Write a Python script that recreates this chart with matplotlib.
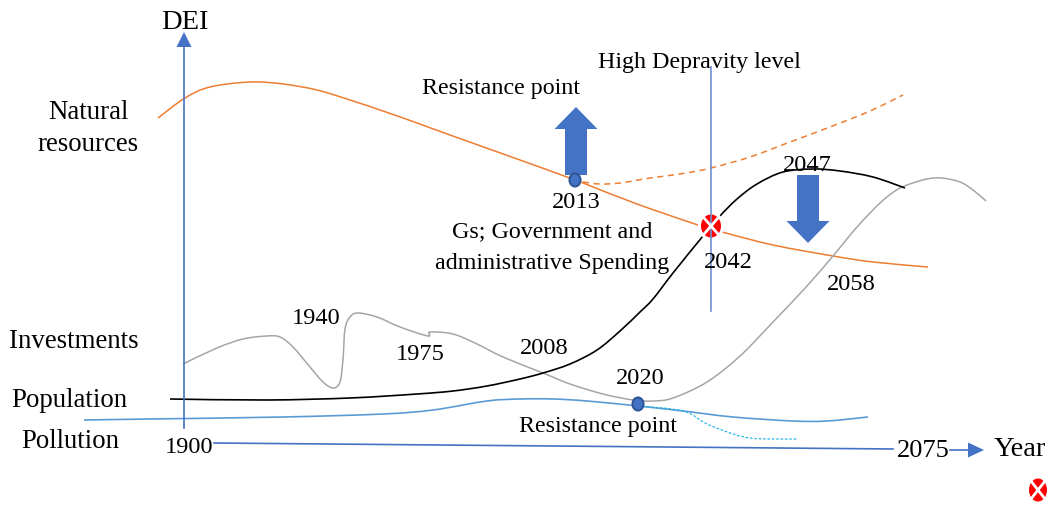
import matplotlib
matplotlib.use("Agg")
import matplotlib.pyplot as plt
from matplotlib.patches import Ellipse, FancyArrow, PathPatch
from matplotlib.path import Path

plt.rcParams['font.family'] = ['Liberation Serif', 'DejaVu Serif']

# curves, in picture pixels
nat_x = [158, 185, 210, 250, 283, 317, 350, 383, 417, 450, 520, 567, 583, 637, 698, 722, 773, 833, 873, 928]
nat_y = [119, 99, 88, 83, 85, 91, 101, 112, 124, 136, 161, 178, 184, 205, 226, 233, 246, 257, 263, 268]
nat2_x = [583, 600, 620, 650, 680, 711, 750, 790, 830, 870, 903]
nat2_y = [183, 185, 184, 179, 175, 169, 158, 143, 128, 112, 96]
pop_x = [170, 267, 350, 417, 453, 487, 520, 543, 570, 597, 620, 640, 653, 673, 703, 720, 737, 757, 783, 813, 840, 873, 905]
pop_y = [400, 401, 399, 395, 392, 387, 380, 374, 365, 351, 332, 313, 300, 274, 237, 217, 200, 185, 173, 170, 172, 178, 189]
inv_x = [183, 217, 243, 267, 280, 293, 310, 323, 333, 340, 343, 345, 350, 358, 377, 400, 428, 430, 453, 477, 503, 543, 570, 603, 633, 653, 673, 707, 740, 773, 807, 833, 857, 880, 895, 907, 927, 942, 960, 973, 986]
inv_y = [365, 349, 340, 337, 338, 348, 368, 383, 389, 383, 360, 330, 318, 314, 318, 328, 337, 333, 335, 345, 358, 374, 385, 395, 401, 402, 399, 383, 357, 323, 287, 257, 228, 204, 192, 186, 180, 179, 183, 191, 202]
pol_x = [84, 150, 283, 383, 433, 487, 520, 553, 587, 638, 683, 733, 793, 827, 868]
pol_y = [421, 420, 418, 415, 411, 402, 400, 400, 402, 407, 412, 418, 422, 422, 418]
pol2_x = [638, 683, 707, 733, 750, 770, 798]
pol2_y = [407, 412, 425, 435, 439, 440, 440]

years = ["1900", "1940", "1975", "2008", "2013", "2020", "2042", "2047", "2058", "2075"]

blue = '#4472c4'
fig = plt.figure(figsize=(10.49, 5.06), dpi=100)
ax = fig.add_axes([0, 0, 1, 1])
ax.set_xlim(0, 1049)
ax.set_ylim(506, 0)
ax.axis('off')


def smooth(x, y, **kw):
    # catmull-rom through the read points, so the curve is not angular
    pts = list(zip(x, y))
    verts = [pts[0]]
    codes = [Path.MOVETO]
    for i in range(len(pts) - 1):
        p0 = pts[max(i - 1, 0)]
        p1 = pts[i]
        p2 = pts[i + 1]
        p3 = pts[min(i + 2, len(pts) - 1)]
        verts.append((p1[0] + (p2[0] - p0[0]) / 6, p1[1] + (p2[1] - p0[1]) / 6))
        verts.append((p2[0] - (p3[0] - p1[0]) / 6, p2[1] - (p3[1] - p1[1]) / 6))
        verts.append(p2)
        codes += [Path.CURVE4] * 3
    ax.add_patch(PathPatch(Path(verts, codes), fill=False, **kw))


def txt(x, y, s, size=17.3):
    ax.text(x, y + 2, s, fontsize=size, ha='center', va='center', color='black', zorder=8)


smooth(nat_x, nat_y, ec='#ed7d31', lw=1.1)
smooth(nat2_x, nat2_y, ec='#ed7d31', lw=1.1, ls=(0, (4, 3)))
smooth(inv_x, inv_y, ec='#a5a5a5', lw=1.1)
smooth(pop_x, pop_y, ec='black', lw=1.2)
smooth(pol_x, pol_y, ec='#5b9bd5', lw=1.2)
smooth(pol2_x, pol2_y, ec='#22b5e8', lw=0.9, ls=(0, (2, 1.5)))

# axes and the depravity line
ax.plot([184, 184], [429, 46], color=blue, lw=1.2)
ax.plot([711, 711], [68, 312], color='#7291d2', lw=1.2, zorder=5.5)
ax.plot([214, 893], [444, 450], color=blue, lw=1.2)
ax.plot([950, 970], [451, 451], color=blue, lw=1.2)
ax.add_patch(FancyArrow(184, 48, 0, -15, width=0, head_width=15, head_length=15,
                        length_includes_head=True, color=blue, lw=0))
ax.add_patch(FancyArrow(968, 451, 16, 0, width=0, head_width=15, head_length=16,
                        length_includes_head=True, color=blue, lw=0))

# block arrows
ax.add_patch(FancyArrow(576, 176, 0, -68, width=22, head_width=43, head_length=22,
                        length_includes_head=True, color=blue, lw=0, zorder=3))
ax.add_patch(FancyArrow(808, 176, 0, 68, width=22, head_width=43, head_length=22,
                        length_includes_head=True, color=blue, lw=0, zorder=3))

# resistance point markers
for mx, my in [(575, 181), (638, 405)]:
    ax.add_patch(Ellipse((mx, my), 11, 13, fc='#4472c4', ec='#2f5597', lw=1.5, zorder=4))

# depravity markers
for mx, my, w, h in [(711, 227, 20, 23), (1038, 491, 18, 23)]:
    ax.add_patch(Ellipse((mx, my), w + 6, h + 6, fc='white', ec='none', zorder=4))
    ax.add_patch(Ellipse((mx, my), w, h, fc='#ff0000', ec='none', zorder=5))
    ax.plot([mx - w * 0.34, mx + w * 0.34], [my - h * 0.34, my + h * 0.34], color='white', lw=2.0, zorder=6)
    ax.plot([mx - w * 0.34, mx + w * 0.34], [my + h * 0.34, my - h * 0.34], color='white', lw=2.0, zorder=6)

txt(185, 20, "DEI", 20.5)
txt(88, 110, "Natural", 19.4)
txt(88, 142, "resources", 19.4)
txt(74, 339, "Investments", 19.4)
txt(69, 399, "Population", 19.4)
txt(70, 440, "Pollution", 19.3)
txt(501, 86, "Resistance point")
txt(699, 60, "High Depravity level")
txt(552, 230, "Gs; Government and")
txt(552, 262, "administrative Spending")
txt(598, 425, "Resistance point")
txt(1020, 448, "Year", 20.5)

year_x = [189, 316, 420, 544, 576, 640, 728, 807, 851]
year_y = [446, 317, 352, 347, 201, 376, 261, 163, 283]
for s, x, y in zip(years, year_x, year_y):
    txt(x, y, s, 17.6)
txt(923, 449, years[9], 19)

fig.savefig("out.png", dpi=100)
